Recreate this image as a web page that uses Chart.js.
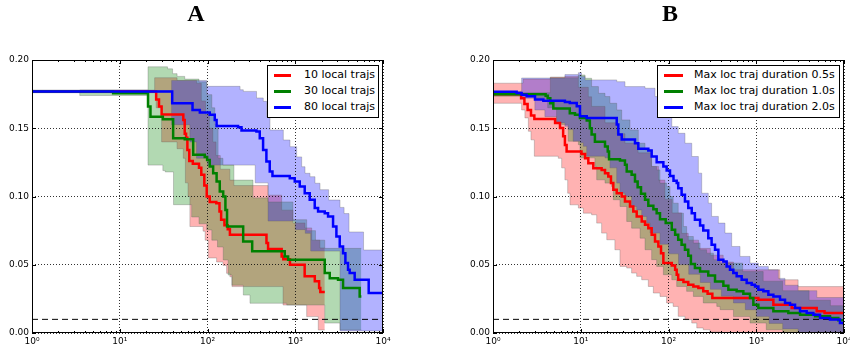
<!DOCTYPE html>
<html>
<head>
<meta charset="utf-8">
<script src="https://cdn.jsdelivr.net/npm/chart.js@4.4.1/dist/chart.umd.min.js"></script>
<style>
  html, body { margin: 0; padding: 0; background: #fff; }
  #wrap { position: relative; width: 850px; height: 354px; overflow: hidden; font-family: 'DejaVu Sans', sans-serif; }
  canvas { position: absolute; top: 0; }
  .ttl { position: absolute; top: 1px; width: 40px; text-align: center; font: bold 24px/24px 'Liberation Serif', 'Times New Roman', serif; color: #000; }
  .leg { position: absolute; box-sizing: border-box; border: 1px solid #000; background: #fff; }
  .row { position: absolute; left: 0; right: 0; height: 16px; }
  .sw { position: absolute; left: 6px; top: 7px; height: 3px; }
  .lbl { position: absolute; left: 36px; top: 0; font-size: 11px; line-height: 16px; color: #000; white-space: nowrap; }
</style>
</head>
<body>
<div id="wrap">
  <canvas id="cA" width="425" height="354" style="left:0"></canvas>
  <canvas id="cB" width="425" height="354" style="left:425px"></canvas>
  <div class="ttl" style="left:176px">A</div>
  <div class="ttl" style="left:650px">B</div>
  <div class="leg" style="left:267px;top:65px;width:112px;height:53px">
    <div class="row" style="top:1px"><span class="sw" style="width:17px;background:#f00"></span><span class="lbl">10 local trajs</span></div>
    <div class="row" style="top:17px"><span class="sw" style="width:17px;background:#008000"></span><span class="lbl">30 local trajs</span></div>
    <div class="row" style="top:33px"><span class="sw" style="width:17px;background:#00f"></span><span class="lbl">80 local trajs</span></div>
  </div>
  <div class="leg" style="left:657px;top:65px;width:183px;height:53px">
    <div class="row" style="top:1px"><span class="sw" style="width:19px;background:#f00"></span><span class="lbl">Max loc traj duration 0.5s</span></div>
    <div class="row" style="top:17px"><span class="sw" style="width:19px;background:#008000"></span><span class="lbl">Max loc traj duration 1.0s</span></div>
    <div class="row" style="top:33px"><span class="sw" style="width:19px;background:#00f"></span><span class="lbl">Max loc traj duration 2.0s</span></div>
  </div>
</div>
<script>
// ── axes ─────────────────────────────────────────────────────────────────────
const X_TICKS  = [1, 10, 100, 1000, 10000];
const X_LABELS = ['10⁰', '10¹', '10²', '10³', '10⁴'];
const Y_TICKS  = [0, 0.05, 0.10, 0.15, 0.20];
const Y_LABELS = ['0.00', '0.05', '0.10', '0.15', '0.20'];
const THRESHOLD = [[1, 0.01], [10000, 0.01]];

// ── panel A: [x, y] step points (value holds from x onward) ──────────────────
const A_RED = [[1,.177],[26,.171],[28,.166],[30,.16],[53,.156],[55,.146],[57,.143],[59,.134],[62,.126],[68,.124],[80,.121],[85,.116],[92,.108],[98,.1],[106,.096],[126,.095],[137,.089],[143,.083],[156,.079],[170,.076],[180,.072],[470,.066],[490,.0615],[700,.056],[730,.054],[870,.05],[1280,.0415],[1670,.038],[1870,.033],[1930,.03],[2170,.03]];
const A_RED_HI = [[1,.178],[25,.187],[45,.185],[75,.183],[85,.17],[95,.16],[105,.15],[115,.14],[125,.13],[140,.12],[180,.112],[200,.108],[490,.101],[700,.09],[940,.0806],[1290,.077],[1540,.068],[1910,.0623],[2170,.0623]];
const A_RED_LO = [[1,.176],[26,.165],[30,.14],[45,.135],[53,.128],[56,.11],[60,.1],[63,.078],[89,.0746],[94,.068],[102,.055],[127,.052],[150,.0495],[165,.0437],[180,.0412],[190,.034],[726,.0205],[1350,.012],[1830,.0022],[2170,.0022]];

const A_GREEN = [[1,.177],[8.4,.1756],[21,.166],[22.4,.1585],[31,.1566],[40.6,.1427],[55,.142],[68.7,.1305],[93,.129],[99,.1268],[106,.122],[116,.1171],[127,.111],[138,.1037],[151,.1],[160,.0902],[167,.078],[255,.0671],[323,.0598],[759,.0561],[829,.0537],[2168,.0439],[2472,.0402],[3073,.039],[3506,.0329],[5420,.0268],[5666,.0268]];
const A_GREEN_HI = [[1,.177],[3.5,.178],[21,.195],[35,.1935],[40,.19],[45,.188],[55,.186],[80,.184],[98,.1746],[112,.165],[121,.1526],[132,.128],[150,.123],[200,.112],[330,.099],[490,.096],[940,.083],[1350,.075],[1700,.068],[2168,.062],[5666,.062]];
const A_GREEN_LO = [[1,.177],[3.5,.174],[21,.123],[31,.119],[33,.118],[41,.094],[66,.085],[80,.08],[98,.0755],[112,.068],[130,.063],[151,.0535],[172,.0425],[190,.035],[256,.0278],[305,.0218],[800,.0205],[2168,.0073],[3236,.0022],[5666,.0022]];

const A_BLUE = [[1,.177],[39.6,.1683],[67.5,.1634],[81.8,.1615],[106,.1598],[121,.1561],[127,.1517],[223,.1507],[244,.1483],[361,.1476],[394,.1427],[430,.1341],[469,.1256],[512,.1183],[550,.1151],[866,.1134],[987,.111],[1125,.1073],[1282,.1024],[1462,.0976],[1667,.0915],[1820,.089],[2168,.0878],[2365,.0854],[2697,.078],[2944,.0707],[3213,.0634],[3506,.0585],[3727,.0512],[3995,.0463],[4172,.0439],[4756,.039],[6870,.0293],[10000,.0293]];
const A_BLUE_HI = [[1,.1775],[39,.185],[98,.1807],[235,.1782],[256,.177],[362,.1722],[432,.1697],[473,.1585],[515,.1487],[731,.1414],[871,.1365],[1038,.129],[1183,.1218],[1292,.117],[1472,.1145],[1679,.1097],[1914,.105],[2400,.0974],[3236,.092],[3600,.0875],[4100,.074],[6000,.0608],[10000,.0608]];
const A_BLUE_LO = [[1,.1765],[39,.1526],[63,.14],[75,.128],[100,.123],[350,.11],[490,.082],[1000,.0757],[1300,.073],[1500,.06],[3236,.0015],[10000,.0015]];

// ── panel B ──────────────────────────────────────────────────────────────────
const B_RED = [[1,.1749],[2.09,.172],[2.28,.1678],[2.48,.1634],[2.71,.1593],[2.96,.1568],[5.1,.1539],[5.8,.1502],[6.3,.1441],[6.6,.1378],[6.9,.1329],[10.2,.1312],[11.2,.128],[12.2,.1244],[13.9,.1207],[17.3,.1195],[18.9,.1171],[20.6,.1146],[22.1,.1098],[23.5,.1049],[25.7,.1024],[29.3,.1],[31.9,.0963],[36.4,.0927],[39.7,.089],[43.4,.0854],[49.5,.0817],[54,.0793],[58.9,.0768],[64.3,.072],[70.2,.0671],[76.6,.0634],[82.2,.0585],[87.4,.0512],[109,.0495],[119,.0463],[124,.0427],[129,.039],[148,.0373],[168,.0354],[192,.0341],[219,.0329],[249,.0305],[279,.0288],[316,.0256],[1057,.0244],[1567,.0207],[2535,.0183],[4887,.0159],[6000,.0146],[10000,.0146]];
const B_RED_HI = [[1,.183],[2.2,.186],[4.5,.1875],[6.6,.188],[9.4,.18],[12.2,.173],[13.3,.166],[18.9,.154],[25.7,.146],[31.9,.139],[45,.132],[64,.122],[77,.112],[91,.098],[110,.088],[141,.073],[168,.068],[220,.062],[300,.057],[420,.052],[550,.0463],[1860,.039],[3000,.034],[10000,.034]];
const B_RED_LO = [[1,.1683],[2.12,.1634],[2.31,.1576],[2.53,.1478],[2.71,.1415],[2.96,.1295],[5.55,.128],[6.06,.121],[6.6,.1122],[7.1,.1024],[7.55,.0939],[9.4,.0915],[10.7,.0878],[13.3,.0866],[15.2,.0805],[17.3,.0732],[19.8,.0683],[24.5,.061],[28,.0488],[33.4,.0476],[38,.0439],[43.4,.0415],[49.5,.039],[58.9,.0341],[67.2,.0293],[80,.0268],[95,.022],[113,.0195],[129,.0122],[154,.0098],[184,.0073],[210,.0037],[249,.0024],[297,.0007],[387,0],[10000,0]];

const B_GREEN = [[1,.1749],[3.98,.1739],[4.2,.172],[4.5,.1683],[4.87,.1644],[7.5,.161],[8.6,.1598],[9.8,.1576],[11.7,.1556],[12.7,.15],[13.3,.1454],[14.5,.1402],[18.9,.1366],[20.3,.1329],[21,.1273],[28,.1263],[31.9,.1232],[33.4,.1183],[38,.1159],[41.5,.111],[44.5,.1068],[48.6,.102],[54,.0976],[58.9,.0932],[67.2,.0907],[73.3,.0878],[80,.0834],[92.9,.0805],[109,.0756],[119,.072],[129,.0683],[141,.0646],[154,.061],[168,.0566],[180,.0505],[200,.0476],[229,.0451],[284,.0422],[339,.0378],[422,.0346],[481,.0317],[598,.0305],[713,.0288],[849,.0256],[927,.0207],[1057,.0183],[1567,.0159],[2322,.0146],[3155,.0134],[4677,.0122],[6925,.011],[8616,.0093],[10000,.0093]];
const B_GREEN_HI = [[1,.1755],[2,.176],[4.5,.187],[9.4,.189],[11.2,.1866],[13.3,.1805],[15.9,.1756],[18.9,.1732],[21.5,.1683],[25.7,.1634],[29.3,.1561],[36.4,.1488],[45.3,.139],[54,.1341],[64.3,.122],[73.3,.1195],[80,.1098],[95.3,.1073],[104,.1],[113,.0951],[129,.0878],[148,.078],[161,.0707],[192,.0659],[229,.061],[272,.0585],[325,.0537],[387,.0512],[700,.045],[1200,.038],[2000,.031],[4000,.024],[7000,.02],[10000,.018]];
const B_GREEN_LO = [[1,.1735],[3,.172],[4.2,.165],[5.3,.1539],[6.06,.1527],[7.2,.1405],[9.4,.138],[9.8,.1283],[13.9,.1283],[14.5,.122],[15.2,.1122],[18.9,.1098],[22.5,.1073],[23.5,.0976],[28,.0927],[33.4,.0817],[38,.0768],[47.4,.0695],[54,.061],[64.3,.0537],[73.3,.0488],[87.4,.0427],[109,.039],[124,.0341],[161,.0305],[192,.0268],[249,.022],[355,.0195],[387,.0171],[550,.012],[850,.0073],[1300,.0024],[2000,0],[10000,0]];

const B_BLUE = [[1,.1768],[1.86,.1759],[2.12,.1746],[2.42,.1734],[3.01,.171],[3.75,.1702],[6.6,.1693],[7.5,.1685],[9.0,.1661],[9.8,.1588],[11.7,.1576],[25.7,.1527],[26.8,.1454],[29.3,.1417],[41.5,.139],[45.3,.1349],[58.9,.1337],[64.3,.1293],[73.3,.1251],[87.4,.122],[95.3,.119],[104,.1151],[114,.1115],[124,.1098],[129,.1061],[141,.1012],[154,.0963],[168,.0915],[184,.0878],[200,.0829],[229,.0788],[249,.0751],[284,.0695],[310,.0646],[339,.061],[370,.0537],[422,.0524],[460,.0488],[502,.0463],[548,.0439],[598,.0415],[682,.039],[778,.0366],[887,.0354],[968,.0341],[1057,.0317],[1205,.0305],[1374,.028],[1567,.0268],[1866,.0244],[2128,.022],[2426,.0207],[2767,.0183],[3155,.0159],[3758,.0146],[4477,.0134],[5333,.011],[6925,.0098],[8995,.0073],[10000,.0061]];
const B_BLUE_HI = [[1,.177],[2.12,.1868],[6.6,.1893],[9.4,.1907],[10.2,.188],[11.2,.1854],[25.7,.1841],[31.9,.1805],[54,.1793],[70.2,.1732],[76.6,.1659],[91,.1585],[109,.1512],[129,.1463],[154,.139],[184,.1293],[219,.1171],[239,.1024],[284,.0951],[310,.0854],[370,.0805],[440,.0732],[525,.0634],[653,.0561],[849,.0512],[1057,.0488],[1374,.0463],[1786,.04],[2128,.035],[3000,.031],[4900,.026],[10000,.024]];
const B_BLUE_LO = [[1,.1766],[2.12,.172],[3.0,.1634],[3.9,.1585],[5.3,.1539],[6.6,.1515],[7.2,.149],[8.2,.1405],[9.8,.1393],[10.7,.1368],[11.7,.1295],[18.9,.1283],[21.5,.121],[25.7,.1098],[28,.1024],[31.9,.1],[38,.0927],[43.4,.0902],[49.5,.0854],[56.5,.0805],[61.6,.0732],[80,.065],[100,.058],[130,.05],[170,.043],[230,.037],[300,.032],[400,.027],[550,.022],[750,.017],[1000,.012],[1400,.007],[2000,.003],[3000,0],[10000,0]];

// ── styling ──────────────────────────────────────────────────────────────────
const RED   = { line: '#ff0000', fill: 'rgba(255,0,0,0.3)' };
const GREEN = { line: '#008000', fill: 'rgba(0,128,0,0.3)' };
const BLUE  = { line: '#0000ff', fill: 'rgba(0,0,255,0.3)' };
const EDGE  = 'rgba(90,90,90,0.3)';
const FONT  = { family: 'DejaVu Sans', size: 9 };

const pts = a => a.map(([x, y]) => ({ x, y }));

// frame + inward tick marks, matplotlib style
const framePlugin = {
  id: 'frame',
  afterDatasetsDraw(chart) {
    const { ctx, chartArea: a, scales: { x, y } } = chart;
    ctx.save();
    ctx.strokeStyle = '#000';
    ctx.lineWidth = 1;
    ctx.beginPath();
    for (let d = 1; d < 10000; d *= 10) {
      for (let m = 2; m <= 9; m++) {
        const px = Math.round(x.getPixelForValue(d * m)) + 0.5;
        ctx.moveTo(px, a.bottom); ctx.lineTo(px, a.bottom - 2);
        ctx.moveTo(px, a.top);    ctx.lineTo(px, a.top + 2);
      }
    }
    X_TICKS.forEach(v => {
      const px = Math.round(x.getPixelForValue(v)) + 0.5;
      ctx.moveTo(px, a.bottom); ctx.lineTo(px, a.bottom - 4);
      ctx.moveTo(px, a.top);    ctx.lineTo(px, a.top + 4);
    });
    Y_TICKS.forEach(v => {
      const py = Math.round(y.getPixelForValue(v)) + 0.5;
      ctx.moveTo(a.left, py);  ctx.lineTo(a.left + 4, py);
      ctx.moveTo(a.right, py); ctx.lineTo(a.right - 4, py);
    });
    ctx.stroke();
    ctx.strokeRect(a.left + 0.5, a.top + 0.5, a.right - a.left - 1, a.bottom - a.top - 1);
    ctx.restore();
  },
};

function buildPanel(id, yWidth, padRight, sets) {
  const datasets = [];
  // lines first in the list -> drawn last (on top); blue over green over red
  [...sets].reverse().forEach(s => datasets.push({
    data: pts(s.line), borderColor: s.c.line, borderWidth: 2.5,
    stepped: true, pointRadius: 0, fill: false,
  }));
  datasets.push({
    data: pts(THRESHOLD), borderColor: '#000', borderWidth: 1,
    borderDash: [6, 4], pointRadius: 0, fill: false,
  });
  // bands: red filled first, then green, then blue
  [...sets].reverse().forEach(s => {
    datasets.push({
      data: pts(s.hi), borderColor: EDGE, borderWidth: 1, stepped: true,
      pointRadius: 0, backgroundColor: s.c.fill, fill: '+1',
    });
    datasets.push({
      data: pts(s.lo), borderColor: EDGE, borderWidth: 1, stepped: true,
      pointRadius: 0, fill: false,
    });
  });

  return new Chart(document.getElementById(id), {
    type: 'line',
    data: { datasets },
    options: {
      responsive: false, animation: false, devicePixelRatio: 1,
      layout: { padding: { left: 0, top: 60, right: padRight, bottom: 0 } },
      plugins: {
        legend: { display: false },
        tooltip: { enabled: false },
        filler: { drawTime: 'beforeDraw' },
      },
      scales: {
        x: {
          type: 'logarithmic', min: 1, max: 10000,
          afterBuildTicks: s => { s.ticks = X_TICKS.map(v => ({ value: v })); },
          afterFit: s => { s.height = 21; s.paddingLeft = 0; s.paddingRight = 0; },
          ticks: {
            autoSkip: false, maxRotation: 0, padding: 3, color: '#000', font: FONT,
            callback: (v, i) => X_LABELS[i],
          },
          grid: { color: 'rgba(0,0,0,0.8)', lineWidth: 1, drawTicks: false },
          border: { display: false, dash: [1, 2] },
        },
        y: {
          min: 0, max: 0.2,
          afterBuildTicks: s => { s.ticks = Y_TICKS.map(v => ({ value: v })); },
          afterFit: s => { s.width = yWidth; },
          ticks: { padding: 3, color: '#000', font: FONT, callback: (v, i) => Y_LABELS[i] },
          grid: { color: 'rgba(0,0,0,0.8)', lineWidth: 1, drawTicks: false },
          border: { display: false, dash: [1, 2] },
        },
      },
    },
    plugins: [framePlugin],
  });
}

buildPanel('cA', 32, 42, [
  { line: A_RED,   hi: A_RED_HI,   lo: A_RED_LO,   c: RED },
  { line: A_GREEN, hi: A_GREEN_HI, lo: A_GREEN_LO, c: GREEN },
  { line: A_BLUE,  hi: A_BLUE_HI,  lo: A_BLUE_LO,  c: BLUE },
]);
buildPanel('cB', 68, 6, [
  { line: B_RED,   hi: B_RED_HI,   lo: B_RED_LO,   c: RED },
  { line: B_GREEN, hi: B_GREEN_HI, lo: B_GREEN_LO, c: GREEN },
  { line: B_BLUE,  hi: B_BLUE_HI,  lo: B_BLUE_LO,  c: BLUE },
]);
</script>
</body>
</html>
